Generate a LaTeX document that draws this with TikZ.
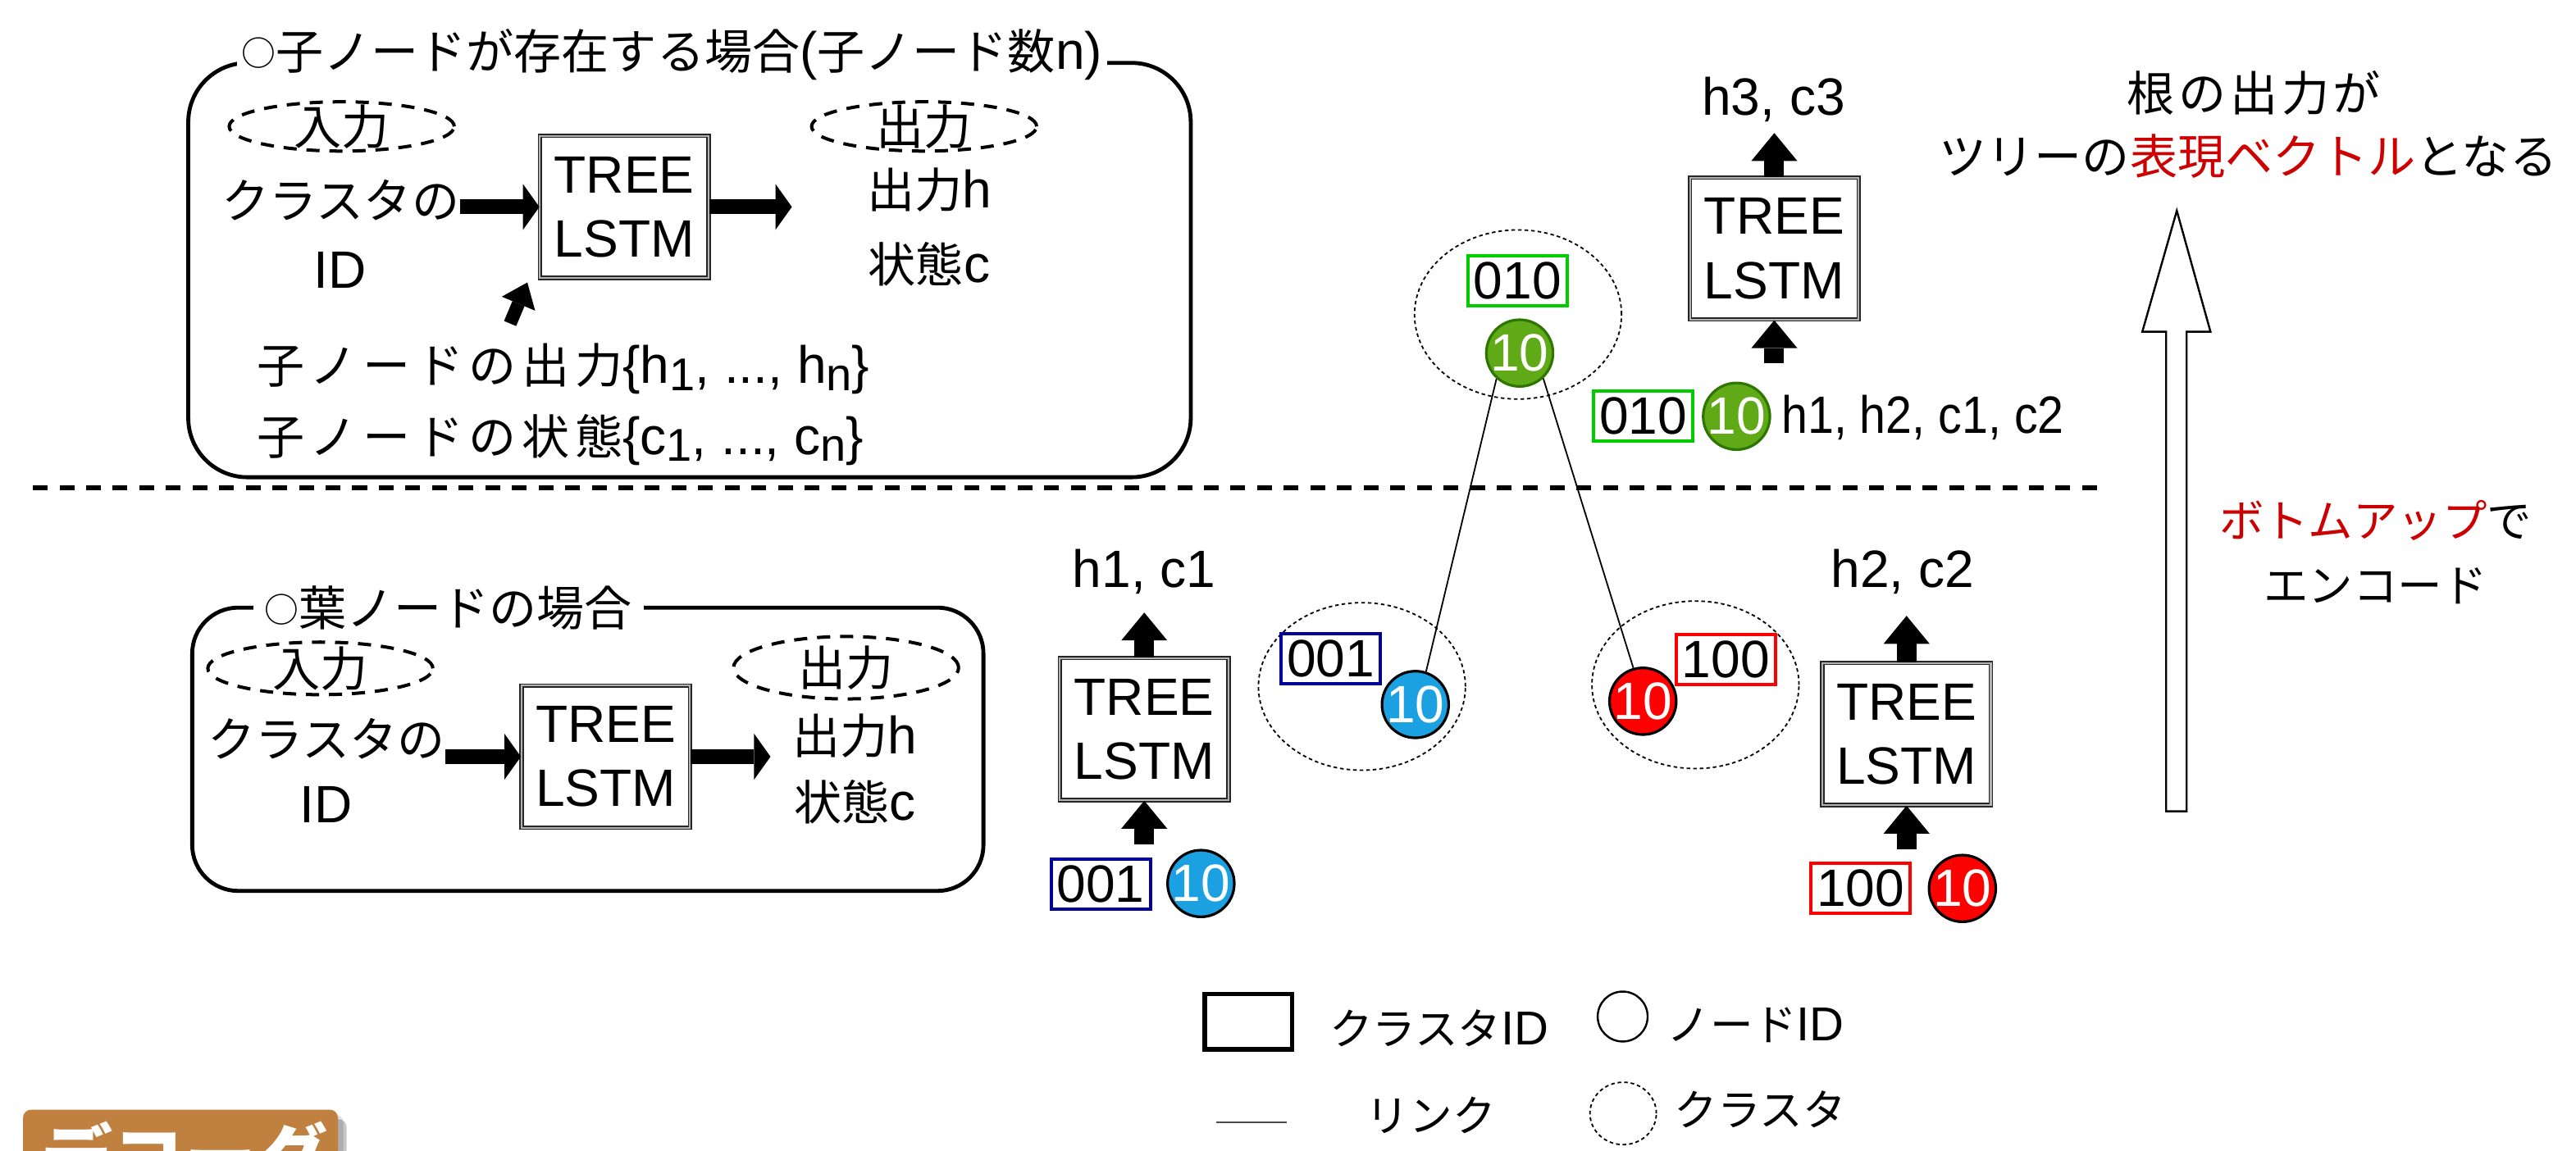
\documentclass[tikz,border=0pt]{standalone}
\usepackage{fontspec}
\usepackage{graphicx}
\setmainfont{Liberation Sans}
\newfontfamily\jpf{Noto Sans CJK JP}[Scale=0.906]
\newfontfamily\jpfw{Noto Sans CJK JP}[Scale=0.906,LetterSpace=11.3]
\newfontfamily\jpfr{Noto Sans CJK JP}[Scale=0.906,LetterSpace=8]
\usetikzlibrary{arrows.meta,shapes.geometric}
\definecolor{jred}{HTML}{CC0000}
\definecolor{nblue}{HTML}{1BA1E2}
\definecolor{bblue}{HTML}{000099}
\definecolor{ngreen}{HTML}{60A917}
\definecolor{ngreenb}{HTML}{2D7600}
\definecolor{bgreen}{HTML}{00CC00}
\definecolor{dec}{HTML}{C08040}
\newcommand\sbs[1]{\raisebox{-2.2pt}{\fontsize{14}{16}\selectfont #1}}
\newcommand\smallcirc{\raisebox{1pt}{\scalebox{0.72}{\jpf ○}}}
\begin{document}
\begin{tikzpicture}[x=0.5pt,y=-0.5pt,
  every node/.style={inner sep=0pt, font=\fontsize{16}{19.5}\selectfont},
  frame/.style={draw, line width=1.2pt},
  ttl/.style={fill=white, inner xsep=1.5pt, inner ysep=1pt},
  ioell/.style={ellipse, draw, line width=1pt, dash pattern=on 4pt off 3pt, minimum width=68.5pt, minimum height=15pt},
  tlbox/.style={draw=black!85, double=black!30, double distance=0.5pt, line width=0.4pt, minimum width=51.3pt, minimum height=43.2pt, align=center, fill=white},
  idbox/.style={draw, line width=1pt, minimum width=30.2pt, minimum height=15.3pt, fill=white},
  nodec/.style={circle, draw=black, line width=0.8pt, minimum size=20.3pt, inner sep=-1pt, text=white},
  cluster/.style={ellipse, draw, line width=0.45pt, dash pattern=on 1.1pt off 0.9pt, minimum width=63pt, minimum height=51pt},
  link/.style={line width=0.45pt},
  harrow/.style={line width=4.5pt, -{Triangle[length=5pt,width=14pt,line width=0pt]}},
  varrow/.style={line width=6pt, -{Triangle[length=8.5pt,width=14pt,line width=0pt]}},
  darrow/.style={line width=4pt, -{Triangle[length=7pt,width=11pt,line width=0pt]}},
  sepline/.style={line width=1.35pt, dash pattern=on 4.5pt off 3.6pt},
  lgfont/.style={font=\fontsize{14.5}{17}\selectfont}
]
\useasboundingbox (0,0) rectangle (1568,700.4);
\fill[white] (0,0) rectangle (1568,700.4);
\clip (0,0) rectangle (1568,700.4);

% ---------- top box ----------
\draw[frame, rounded corners=18pt] (114.6,38.3) rectangle (724.8,290.6);
\node[ttl] (ttl1) at (409,33) {\smallcirc{\jpf 子ノードが存在する場合}({\jpf 子ノード数}n)};
\node[ioell] (in1) at (208,77) {};
\node (in1t) at (in1) {\jpf 入力};
\node[ioell] (out1) at (562.5,77) {};
\node (out1t) at (out1) {\jpf 出力};
\node (c1t) at (207.4,122) {\jpf クラスタの};
\node (id1t) at (207,164.5) {ID};
\node[tlbox] (tree1) at (380,126) {TREE\\LSTM};
\coordinate (a2e) at (482,126);
\draw[harrow] (c1t.east |- tree1) -- (tree1.west);
\draw[harrow] (tree1.east) -- (a2e);
\node (oh1) at (565.6,115.5) {{\jpf 出力}h};
\node (oc1) at (565.6,161) {{\jpf 状態}c};
\coordinate (d1s) at (310.5,197);
\coordinate (d1e) at (321,172);
\draw[darrow] (d1s) -- (d1e);
\node[anchor=base west] (ch1) at (156,233.6) {{\jpfw 子ノードの出力}\{h\sbs{1}, ..., h\sbs{n}\}};
\node[anchor=base west] (ch2) at (156,276.6) {{\jpfw 子ノードの状態}\{c\sbs{1}, ..., c\sbs{n}\}};

% ---------- separator ----------
\draw[sepline] (20,297) -- (1282,297);

% ---------- bottom box ----------
\draw[frame, rounded corners=14pt] (117,370) rectangle (598.6,542.5);
\node[ttl, inner xsep=3.5pt] (ttl2) at (273,370) {\smallcirc{\jpf 葉ノードの場合}};
\node[ioell, minimum height=16pt] (in2) at (195,407) {};
\node (in2t) at (in2) {\jpf 入力};
\node[ioell, minimum height=19pt] (out2) at (515,406.6) {};
\node (out2t) at (out2) {\jpf 出力};
\node (c2t) at (198.5,450) {\jpf クラスタの};
\node (id2t) at (198.5,490) {ID};
\node[tlbox] (tree2) at (368.75,460.75) {TREE\\LSTM};
\coordinate (a4e) at (469,460.75);
\draw[harrow] (c2t.east |- tree2) -- (tree2.west);
\draw[harrow] (tree2.east) -- (a4e);
\node (oh2) at (520.5,448) {{\jpf 出力}h};
\node (oc2) at (520.5,488.5) {{\jpf 状態}c};

% ---------- left leaf stack ----------
\node[anchor=base] (hc1) at (696.5,357.5) {h1, c1};
\node[tlbox] (tl1) at (696.5,444) {TREE\\LSTM};
\coordinate (v1e) at (696.5,373);
\coordinate (v2s) at (696.5,514);
\draw[varrow] (tl1.north) -- (v1e);
\draw[varrow] (v2s) -- (tl1.south);
\node[idbox, draw=bblue] (id1a) at (670,538.5) {001};
\node[nodec, fill=nblue] (nd1a) at (731,538) {10};

% ---------- right leaf stack ----------
\node[anchor=base] (hc2) at (1158,357.5) {h2, c2};
\node[tlbox] (tl2) at (1160.5,447) {TREE\\LSTM};
\coordinate (v3e) at (1160.5,375);
\coordinate (v4s) at (1160.5,517);
\draw[varrow] (tl2.north) -- (v3e);
\draw[varrow] (v4s) -- (tl2.south);
\node[idbox, draw=red] (id2a) at (1132.5,541) {100};
\node[nodec, fill=red] (nd2a) at (1194.5,541) {10};

% ---------- root stack ----------
\node[anchor=base] (hc3) at (1079.5,70.2) {h3, c3};
\node[tlbox] (tl3) at (1080,151.4) {TREE\\LSTM};
\coordinate (v5e) at (1080,81);
\coordinate (v6s) at (1080,221);
\draw[varrow] (tl3.north) -- (v5e);
\draw[varrow] (v6s) -- (tl3.south);
\node[idbox, draw=bgreen] (id3a) at (1000.25,253.5) {010};
\node[nodec, fill=ngreen, draw=ngreenb] (nd3a) at (1057,253.5) {10};
\node[anchor=base west] (hcall) at (1084,264) {\scalebox{0.895}[1]{h1, h2, c1, c2}};

% ---------- tree of clusters ----------
\node[cluster] (cl1) at (829,418) {};
\node[cluster] (cl2) at (1032,417) {};
\node[cluster, minimum height=51.5pt] (cl3) at (924,191.5) {};
\node[idbox, draw=bblue] (id1b) at (810,401) {001};
\node[nodec, fill=nblue] (nd1b) at (861.5,429) {10};
\node[nodec, fill=red] (nd2b) at (1000,427) {10};
\node[idbox, draw=red] (id2b) at (1050.5,401.5) {100};
\node[idbox, draw=bgreen] (id3b) at (923.7,171) {010};
\node[nodec, fill=ngreen, draw=ngreenb] (nd3b) at (925,215) {10};
\draw[link] (nd3b.228) -- (nd1b.72);
\draw[link] (nd3b.313) -- (nd2b.106);

% ---------- big hollow arrow ----------
\draw[line width=0.6pt, fill=white] (1318.5,494) -- (1318.5,202) -- (1304,202) -- (1325,128.3) -- (1345.5,202) -- (1331,202) -- (1331,494) -- cycle;

% ---------- right texts ----------
\node (rt1) at (1372,56.5) {\jpfr 根の出力が};
\node (rt2) at (1368.5,95) {\jpf ツリーの\textcolor{jred}{表現ベクトル}となる};
\node[font=\fontsize{15}{18}\selectfont] (bu1) at (1446,317) {\jpf \textcolor{jred}{ボトムアップ}で};
\node[font=\fontsize{15}{18}\selectfont] (bu2) at (1446,357) {\jpf エンコード};

% ---------- legend ----------
\node[draw, line width=1.3pt, minimum width=26.5pt, minimum height=16.8pt] (lgbox) at (759.85,622.2) {};
\node[lgfont] (lgt1) at (876,626) {{\jpf クラスタ}ID};
\node[circle, draw, line width=0.6pt, minimum size=15.2pt] (lgcirc) at (987.7,619) {};
\node[lgfont] (lgt2) at (1068.7,624) {{\jpf ノード}ID};
\coordinate (lgl1) at (740.5,683.5);
\coordinate (lgl2) at (783,683.5);
\draw[line width=0.6pt, black!70] (lgl1) -- (lgl2);
\node[lgfont] (lgt3) at (871,679) {\jpf リンク};
\node[cluster, minimum width=20.2pt, minimum height=19pt] (lgdot) at (988,678) {};
\node[lgfont] (lgt4) at (1071.5,675.5) {\jpf クラスタ};

% ---------- decoder tab (cut off, as in the reference) ----------
\fill[black, opacity=0.12, rounded corners=2.5pt] (16.5,678.5) rectangle (209,740);
\fill[black, opacity=0.22, rounded corners=2.5pt] (19,681.5) rectangle (211,740);
\fill[dec, rounded corners=2.5pt] (14,675.7) rectangle (205.7,740);
\node[anchor=base west, text=white, font=\fontsize{24}{28}\selectfont] (dect) at (25,721) {\jpf\bfseries デコーダ};
\end{tikzpicture}
\end{document}
